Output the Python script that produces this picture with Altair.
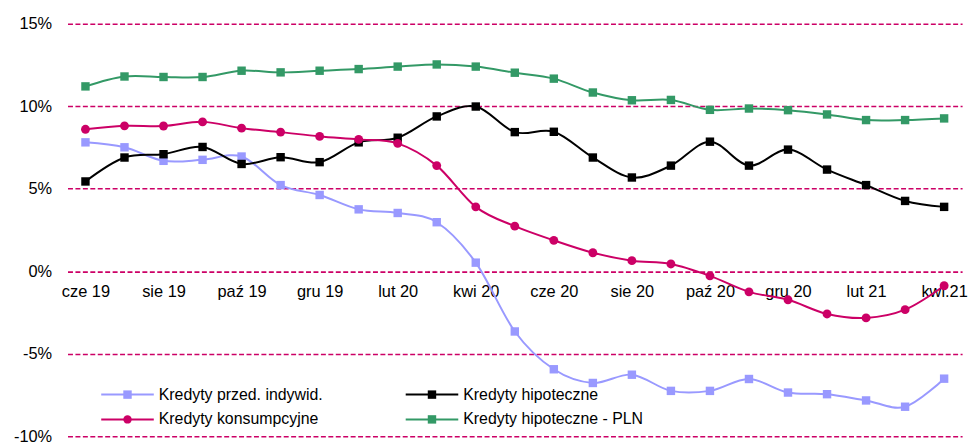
import altair as alt
import pandas as pd

# ---------------- data ----------------
months = ["cze 19", "lip 19", "sie 19", "wrz 19", "paź 19", "lis 19", "gru 19",
          "sty 20", "lut 20", "mar 20", "kwi 20", "maj 20", "cze 20", "lip 20",
          "sie 20", "wrz 20", "paź 20", "lis 20", "gru 20", "sty 21", "lut 21",
          "mar 21", "kwi.21"]
tick_labels = months[::2]

przed_indywid = [7.81, 7.51, 6.69, 6.75, 6.95, 5.22, 4.62, 3.75, 3.53, 2.97, 0.52,
                 -3.65, -5.94, -6.77, -6.27, -7.25, -7.25, -6.53, -7.35, -7.45,
                 -7.83, -8.21, -6.51]
hipoteczne = [5.44, 6.89, 7.09, 7.53, 6.50, 6.91, 6.61, 7.81, 8.09, 9.38, 9.98,
              8.43, 8.45, 6.89, 5.68, 6.40, 7.85, 6.40, 7.37, 6.16, 5.22, 4.26, 3.90]
konsumpcyjne = [8.60, 8.81, 8.80, 9.05, 8.67, 8.43, 8.17, 7.99, 7.75, 6.40, 3.90,
                2.73, 1.87, 1.12, 0.64, 0.44, -0.28, -1.25, -1.73, -2.59, -2.83,
                -2.33, -0.88]
hipoteczne_pln = [11.20, 11.80, 11.77, 11.77, 12.15, 12.05, 12.15, 12.25, 12.40,
                  12.53, 12.40, 12.03, 11.67, 10.83, 10.36, 10.38, 9.78, 9.86,
                  9.76, 9.50, 9.16, 9.16, 9.26]

series_names = ["Kredyty przed. indywid.", "Kredyty hipoteczne",
                "Kredyty konsumpcyjne", "Kredyty hipoteczne - PLN"]
series_values = [przed_indywid, hipoteczne, konsumpcyjne, hipoteczne_pln]
colors = ["#9999FF", "#000000", "#CC0066", "#339966"]
shapes = ["square", "square", "circle", "square"]
y_ticks = [-10, -5, 0, 5, 10, 15]

# ---------------- layout ----------------
W, H = 902, 416
FONT = "Liberation Sans"
GRID = "#CC0066"

x_enc = alt.X("month:O", sort=months,
              scale=alt.Scale(type="point", padding=0.46),
              axis=alt.Axis(values=tick_labels, title=None, domain=False, ticks=False,
                            grid=False, labelAngle=0, labelFont=FONT, labelFontSize=16.5,
                            labelColor="#000000", labelPadding=12, offset=-166,
                            labelOverlap=False))
y_enc = alt.Y("value:Q", scale=alt.Scale(domain=[-10, 15], nice=False, zero=False),
              axis=alt.Axis(values=y_ticks, title=None, domain=False, ticks=False,
                            grid=True, gridColor=GRID, gridDash=[5, 2.5], gridWidth=1.6,
                            labelFont=FONT, labelFontSize=16.5, labelColor="#000000",
                            labelPadding=16, labelExpr="datum.value + '%'"))

layers = []
for i, (name, vals) in enumerate(zip(series_names, series_values)):
    df = pd.DataFrame({"month": months, "value": vals, "series": name})
    base = alt.Chart(df)
    line = base.mark_line(color=colors[i], strokeWidth=2, interpolate="cardinal").encode(
        x=x_enc, y=y_enc)
    pts = base.mark_point(shape=shapes[i], filled=True, color=colors[i], opacity=1,
                          size=72 if shapes[i] == "square" else 80).encode(
        x=alt.X("month:O", sort=months), y="value:Q")
    layers += [line, pts]

# ---------------- legend (manual, two columns) ----------------
col_x = [34, 341]
row_y = [374, 399]
leg_layers = []
for k, name in enumerate(series_names):
    lx0 = col_x[k % 2]
    ly0 = row_y[k // 2]
    ld = alt.Chart(pd.DataFrame({"series": [name]}))
    leg_layers.append(ld.mark_rule(strokeWidth=2, color=colors[k]).encode(
        x=alt.value(lx0), x2=alt.value(lx0 + 53), y=alt.value(ly0)))
    leg_layers.append(ld.mark_point(filled=True, opacity=1, size=72, shape=shapes[k],
                                    color=colors[k]).encode(
        x=alt.value(lx0 + 26.5), y=alt.value(ly0)))
    leg_layers.append(ld.mark_text(align="left", baseline="middle", font=FONT,
                                   fontSize=16, color="#000000").encode(
        x=alt.value(lx0 + 58), y=alt.value(ly0), text="series:N"))

chart = alt.layer(*layers, *leg_layers).properties(
    width=W, height=H,
    background="white",
    autosize=alt.AutoSizeParams(type="none"),
    padding={"left": 60, "top": 14, "right": 10, "bottom": 8},
).configure_view(stroke=None).configure_axis(domain=False, ticks=False)

chart.save("out.html", embed_options={"renderer": "svg", "actions": False})
